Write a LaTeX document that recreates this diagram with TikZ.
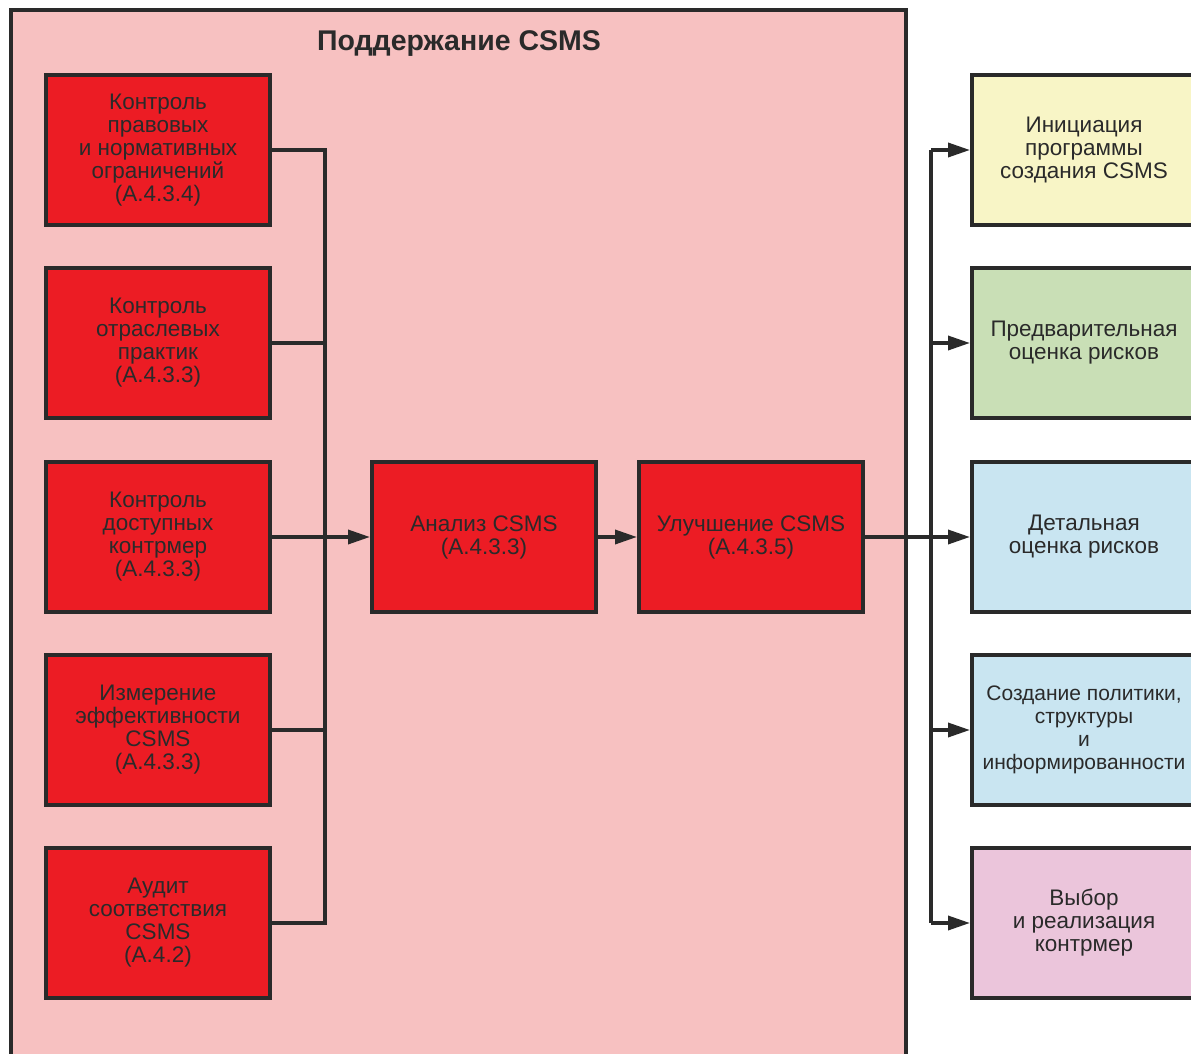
\documentclass[tikz,border=0pt]{standalone}
\usepackage{fontspec}
\setmainfont{Liberation Sans}
\usetikzlibrary{arrows.meta}
\definecolor{bgpink}{HTML}{F7C1C1}
\definecolor{boxred}{HTML}{EC1C24}
\definecolor{cyellow}{HTML}{F8F5C6}
\definecolor{cgreen}{HTML}{C9DFB6}
\definecolor{cblue}{HTML}{C9E5F1}
\definecolor{cpink}{HTML}{EBC5DB}
\definecolor{txt}{HTML}{2A2A2A}
\tikzset{
  redbox/.style={draw=txt, line width=4pt, fill=boxred, minimum width=224pt, minimum height=150pt, align=center, text=txt, font=\fontsize{22.5}{23}\selectfont, inner sep=0pt},
  sidebox/.style={draw=txt, line width=4pt, minimum width=224pt, minimum height=150pt, align=center, text=txt, font=\fontsize{22.5}{23}\selectfont, inner sep=0pt},
  conn/.style={draw=txt, line width=3.5pt},
  arr/.style={conn, -{Triangle[length=22pt,width=14pt]}}
}
\begin{document}
\begin{tikzpicture}[x=1pt,y=-1pt]
\useasboundingbox (0,0) rectangle (1191,1054);
\clip (0,0) rectangle (1191,1054);
\fill[white] (0,0) rectangle (1191,1054);
\draw[draw=txt, line width=4pt, fill=bgpink] (11,10) rectangle (906,1080);
\node[font=\fontsize{28.5}{30}\selectfont\bfseries, text=txt] (title) at (459,44) {Поддержание CSMS};
% left boxes
\node[redbox] (l1) at (158,150) {Контроль\\правовых\\и нормативных\\ограничений\\(А.4.3.4)};
\node[redbox] (l2) at (158,343) {Контроль\\отраслевых\\практик\\(А.4.3.3)};
\node[redbox] (l3) at (158,537) {Контроль\\доступных\\контрмер\\(А.4.3.3)};
\node[redbox] (l4) at (158,730) {Измерение\\эффективности\\CSMS\\(А.4.3.3)};
\node[redbox] (l5) at (158,923) {Аудит\\соответствия\\CSMS\\(А.4.2)};
\node[redbox] (an) at (484,537) {Анализ CSMS\\(А.4.3.3)};
\node[redbox] (im) at (751,537) {Улучшение CSMS\\(А.4.3.5)};
% right boxes
\node[sidebox, fill=cyellow] (r1) at (1084,150) {Инициация\\программы\\создания CSMS};
\node[sidebox, fill=cgreen] (r2) at (1084,343) {Предварительная\\оценка рисков};
\node[sidebox, fill=cblue] (r3) at (1084,537) {Детальная\\оценка рисков};
\node[sidebox, fill=cblue, font=\fontsize{21}{23}\selectfont] (r4) at (1084,730) {Создание политики,\\структуры\\и\\информированности};
\node[sidebox, fill=cpink] (r5) at (1084,923) {Выбор\\и реализация\\контрмер};
% coordinates
\coordinate (cl) at (325,0);
\coordinate (cr) at (931,0);
% left connectors
\draw[conn] (l1.east) -| (cl |- l5.east) -- (l5.east);
\draw[conn] (l2.east) -- (cl |- l2.east);
\draw[conn] (l4.east) -- (cl |- l4.east);
\draw[arr] (l3.east) -- (an.west);
\draw[arr] (an.east) -- (im.west);
% right connectors
\draw[arr] (im.east) -- (r3.west);
\draw[conn] (cr |- r1.west) -- (cr |- r5.west);
\draw[arr] (cr |- r1.west) -- (r1.west);
\draw[arr] (cr |- r2.west) -- (r2.west);
\draw[arr] (cr |- r4.west) -- (r4.west);
\draw[arr] (cr |- r5.west) -- (r5.west);
\end{tikzpicture}
\end{document}
